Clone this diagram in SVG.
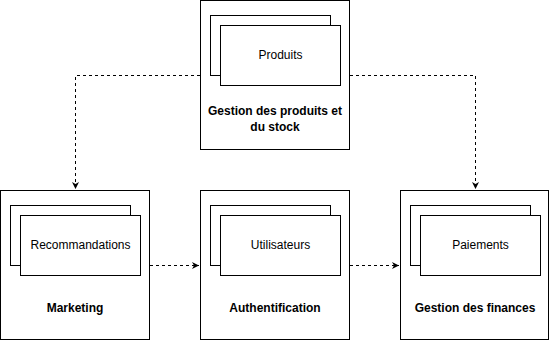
<svg xmlns="http://www.w3.org/2000/svg" width="550" height="341" viewBox="0 0 550 341">
<style>
.box{fill:#fff;stroke:#000;stroke-width:1}
.lbl{font-family:"Liberation Sans",Arial,sans-serif;font-size:12px;fill:#000;text-anchor:middle}
.ttl{font-family:"Liberation Sans",Arial,sans-serif;font-size:12px;font-weight:bold;fill:#000;text-anchor:middle}
.edge{fill:none;stroke:#000;stroke-width:1;stroke-dasharray:3 3}
</style>
<defs>
<marker id="arr" markerWidth="8" markerHeight="8" refX="7" refY="4" orient="auto" markerUnits="userSpaceOnUse">
<path d="M0,0.5 L7,4 L0,7.5 L2,4 Z" fill="#000"/>
</marker>
</defs>
<rect width="550" height="341" fill="#fff"/>
<g id="stock">
<rect class="box" x="200.5" y="0.5" width="149" height="149"/>
<rect class="box" x="210.5" y="15.5" width="120" height="60"/>
<rect class="box" x="220.5" y="25.5" width="120" height="60"/>
<text class="lbl" x="280.5" y="59">Produits</text>
<text class="ttl" x="275" y="115">Gestion des produits et</text>
<text class="ttl" x="275" y="131">du stock</text>
</g>
<g id="marketing">
<rect class="box" x="0.5" y="190.5" width="149" height="149"/>
<rect class="box" x="10.5" y="205.5" width="120" height="60"/>
<rect class="box" x="20.5" y="215.5" width="120" height="60"/>
<text class="lbl" x="80.5" y="249">Recommandations</text>
<text class="ttl" x="75" y="312">Marketing</text>
</g>
<g id="auth">
<rect class="box" x="200.5" y="190.5" width="149" height="149"/>
<rect class="box" x="210.5" y="205.5" width="120" height="60"/>
<rect class="box" x="220.5" y="215.5" width="120" height="60"/>
<text class="lbl" x="280.5" y="249">Utilisateurs</text>
<text class="ttl" x="275" y="312">Authentification</text>
</g>
<g id="finances">
<rect class="box" x="400.5" y="190.5" width="148" height="149"/>
<rect class="box" x="410.5" y="205.5" width="120" height="60"/>
<rect class="box" x="420.5" y="215.5" width="120" height="60"/>
<text class="lbl" x="480.5" y="249">Paiements</text>
<text class="ttl" x="475" y="312">Gestion des finances</text>
</g>
<g id="connectors">
<path class="edge" d="M200,75.5 H75.5 V189" marker-end="url(#arr)"/>
<path class="edge" d="M350,75.5 H475.5 V189" marker-end="url(#arr)"/>
<path class="edge" d="M150,265.5 H199" marker-end="url(#arr)"/>
<path class="edge" d="M350,265.5 H399" marker-end="url(#arr)"/>
</g>
</svg>
